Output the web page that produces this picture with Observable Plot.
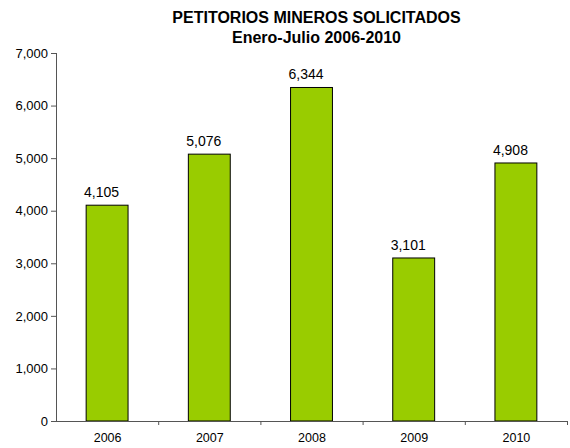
<!DOCTYPE html>
<html>
<head>
<meta charset="utf-8">
<script src="https://cdn.jsdelivr.net/npm/d3@7"></script>
<script src="https://cdn.jsdelivr.net/npm/@observablehq/plot@0.6"></script>
<style>
  html, body { margin: 0; padding: 0; background: #fff; }
  #wrap { position: relative; width: 570px; height: 448px; font-family: "Liberation Sans", Arial, sans-serif; }
  #title { position: absolute; left: 61px; width: 511px; top: 8px; text-align: center; font-weight: bold; font-size: 16px; line-height: 19.5px; color: #000; }
</style>
</head>
<body>
<div id="wrap">
  <div id="chart"></div>
  <div id="title">PETITORIOS MINEROS SOLICITADOS<br>Enero-Julio 2006-2010</div>
</div>
<script>
const years = ["2006", "2007", "2008", "2009", "2010"];
const values = [4105, 5076, 6344, 3101, 4908];
const yTicks = [0, 1000, 2000, 3000, 4000, 5000, 6000, 7000];

const data = years.map((y, i) => ({year: y, i, value: values[i]}));
const fmt = d3.format(",");

const chart = Plot.plot({
  width: 570,
  height: 448,
  marginLeft: 56,
  marginRight: 3,
  marginTop: 53,
  marginBottom: 27,
  style: {fontFamily: "Liberation Sans, Arial, sans-serif", color: "#000", background: "#fff"},
  x: {type: "linear", domain: [0, years.length]},
  y: {domain: [0, 7000]},
  marks: [
    Plot.rectY(data, {x1: d => d.i + 0.295, x2: d => d.i + 0.705, y1: 0, y2: "value", fill: "#99CC00", stroke: "#000", strokeWidth: 1}),
    Plot.text(data, {x: d => d.i + 0.5, y: "value", text: d => fmt(d.value), dy: -13, dx: -6, fontSize: 14, fill: "#000"}),
    Plot.ruleX([0], {y1: 0, y2: 7000, stroke: "#555"}),
    Plot.ruleY([0], {x1: 0, x2: years.length, stroke: "#555"}),
    Plot.axisY({ticks: yTicks, tickFormat: fmt, tickSize: 5, tickPadding: 3.5, fontSize: 13, stroke: "#555", label: null}),
    Plot.axisX({ticks: d3.range(1, years.length + 1), tickFormat: () => "", tickSize: 4, stroke: "#555", label: null}),
    Plot.axisX({ticks: d3.range(years.length).map(i => i + 0.5), tickFormat: d => years[Math.floor(d)], tickSize: 0, tickPadding: 12, fontSize: 12.5, label: null})
  ]
});
document.getElementById("chart").appendChild(chart);
</script>
</body>
</html>
